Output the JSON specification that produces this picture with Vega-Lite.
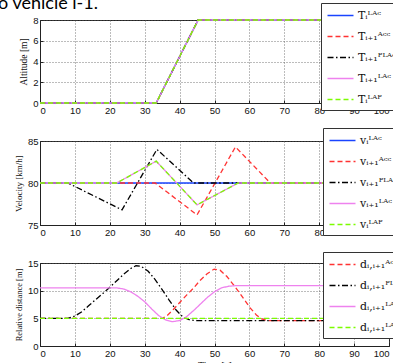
{
  "$schema": "https://vega.github.io/schema/vega-lite/v6.json",
  "autosize": "none",
  "padding": {"left": 40, "top": 20, "right": 353, "bottom": 343},
  "title": {"text": "o vehicle i-1.", "anchor": "start", "frame": "group", "font": "Lato", "fontSize": 18, "fontWeight": "normal", "color": "#000000", "baseline": "alphabetic", "offset": -25, "dx": -42},
  "bounds": "flush",
  "spacing": 38,
  "datasets": {
    "alt": [
      {"t": 0, "s": "Tᵢᴸᴬᶜ", "y": 0}, {"t": 33.3, "s": "Tᵢᴸᴬᶜ", "y": 0}, {"t": 45.3, "s": "Tᵢᴸᴬᶜ", "y": 8}, {"t": 100, "s": "Tᵢᴸᴬᶜ", "y": 8},
      {"t": 0, "s": "Tᵢ₊₁ᴬᶜᶜ", "y": 0}, {"t": 33.3, "s": "Tᵢ₊₁ᴬᶜᶜ", "y": 0}, {"t": 45.3, "s": "Tᵢ₊₁ᴬᶜᶜ", "y": 8}, {"t": 100, "s": "Tᵢ₊₁ᴬᶜᶜ", "y": 8},
      {"t": 0, "s": "Tᵢ₊₁ᴾᴸᴬᶜ", "y": 0}, {"t": 33.3, "s": "Tᵢ₊₁ᴾᴸᴬᶜ", "y": 0}, {"t": 45.3, "s": "Tᵢ₊₁ᴾᴸᴬᶜ", "y": 8}, {"t": 100, "s": "Tᵢ₊₁ᴾᴸᴬᶜ", "y": 8},
      {"t": 0, "s": "Tᵢ₊₁ᴸᴬᶜ", "y": 0}, {"t": 33.3, "s": "Tᵢ₊₁ᴸᴬᶜ", "y": 0}, {"t": 45.3, "s": "Tᵢ₊₁ᴸᴬᶜ", "y": 8}, {"t": 100, "s": "Tᵢ₊₁ᴸᴬᶜ", "y": 8},
      {"t": 0, "s": "Tᵢᴸᴬᴾ", "y": 0}, {"t": 33.3, "s": "Tᵢᴸᴬᴾ", "y": 0}, {"t": 45.3, "s": "Tᵢᴸᴬᴾ", "y": 8}, {"t": 100, "s": "Tᵢᴸᴬᴾ", "y": 8}
    ],
    "vel": [
      {"t": 0, "s": "vᵢᴸᴬᶜ", "y": 80}, {"t": 100, "s": "vᵢᴸᴬᶜ", "y": 80},
      {"t": 0, "s": "vᵢ₊₁ᴬᶜᶜ", "y": 80}, {"t": 33, "s": "vᵢ₊₁ᴬᶜᶜ", "y": 80}, {"t": 45, "s": "vᵢ₊₁ᴬᶜᶜ", "y": 76.2}, {"t": 56, "s": "vᵢ₊₁ᴬᶜᶜ", "y": 84.3}, {"t": 66, "s": "vᵢ₊₁ᴬᶜᶜ", "y": 80}, {"t": 100, "s": "vᵢ₊₁ᴬᶜᶜ", "y": 80},
      {"t": 0, "s": "vᵢ₊₁ᴾᴸᴬᶜ", "y": 80}, {"t": 8, "s": "vᵢ₊₁ᴾᴸᴬᶜ", "y": 80}, {"t": 23.5, "s": "vᵢ₊₁ᴾᴸᴬᶜ", "y": 76.8}, {"t": 33.5, "s": "vᵢ₊₁ᴾᴸᴬᶜ", "y": 84}, {"t": 44, "s": "vᵢ₊₁ᴾᴸᴬᶜ", "y": 80}, {"t": 100, "s": "vᵢ₊₁ᴾᴸᴬᶜ", "y": 80},
      {"t": 0, "s": "vᵢ₊₁ᴸᴬᶜ", "y": 80}, {"t": 22, "s": "vᵢ₊₁ᴸᴬᶜ", "y": 80}, {"t": 33.3, "s": "vᵢ₊₁ᴸᴬᶜ", "y": 82.6}, {"t": 45, "s": "vᵢ₊₁ᴸᴬᶜ", "y": 77.4}, {"t": 56.8, "s": "vᵢ₊₁ᴸᴬᶜ", "y": 80}, {"t": 100, "s": "vᵢ₊₁ᴸᴬᶜ", "y": 80},
      {"t": 0, "s": "vᵢᴸᴬᴾ", "y": 80}, {"t": 22, "s": "vᵢᴸᴬᴾ", "y": 80}, {"t": 33.3, "s": "vᵢᴸᴬᴾ", "y": 82.6}, {"t": 45, "s": "vᵢᴸᴬᴾ", "y": 77.4}, {"t": 56.8, "s": "vᵢᴸᴬᴾ", "y": 80}, {"t": 100, "s": "vᵢᴸᴬᴾ", "y": 80}
    ],
    "dist": [
      {"t": 0, "s": "dᵢ,ᵢ₊₁ᴬᶜᶜ", "y": 5}, {"t": 35, "s": "dᵢ,ᵢ₊₁ᴬᶜᶜ", "y": 5}, {"t": 36.3, "s": "dᵢ,ᵢ₊₁ᴬᶜᶜ", "y": 5.4}, {"t": 38.2, "s": "dᵢ,ᵢ₊₁ᴬᶜᶜ", "y": 6.6}, {"t": 40.1, "s": "dᵢ,ᵢ₊₁ᴬᶜᶜ", "y": 7.9}, {"t": 42, "s": "dᵢ,ᵢ₊₁ᴬᶜᶜ", "y": 9.2}, {"t": 43.9, "s": "dᵢ,ᵢ₊₁ᴬᶜᶜ", "y": 10.4}, {"t": 45.8, "s": "dᵢ,ᵢ₊₁ᴬᶜᶜ", "y": 11.8}, {"t": 47.8, "s": "dᵢ,ᵢ₊₁ᴬᶜᶜ", "y": 13.0}, {"t": 49.9, "s": "dᵢ,ᵢ₊₁ᴬᶜᶜ", "y": 13.9}, {"t": 51.6, "s": "dᵢ,ᵢ₊₁ᴬᶜᶜ", "y": 13.7}, {"t": 53.5, "s": "dᵢ,ᵢ₊₁ᴬᶜᶜ", "y": 12.6}, {"t": 55.4, "s": "dᵢ,ᵢ₊₁ᴬᶜᶜ", "y": 11.1}, {"t": 57.3, "s": "dᵢ,ᵢ₊₁ᴬᶜᶜ", "y": 9.5}, {"t": 59.2, "s": "dᵢ,ᵢ₊₁ᴬᶜᶜ", "y": 7.8}, {"t": 60.2, "s": "dᵢ,ᵢ₊₁ᴬᶜᶜ", "y": 6.9}, {"t": 62, "s": "dᵢ,ᵢ₊₁ᴬᶜᶜ", "y": 5.6}, {"t": 63.5, "s": "dᵢ,ᵢ₊₁ᴬᶜᶜ", "y": 4.9}, {"t": 65, "s": "dᵢ,ᵢ₊₁ᴬᶜᶜ", "y": 4.6}, {"t": 100, "s": "dᵢ,ᵢ₊₁ᴬᶜᶜ", "y": 4.6},
      {"t": 0, "s": "dᵢ,ᵢ₊₁ᴾᴸᴬᶜ", "y": 5}, {"t": 8, "s": "dᵢ,ᵢ₊₁ᴾᴸᴬᶜ", "y": 5}, {"t": 10, "s": "dᵢ,ᵢ₊₁ᴾᴸᴬᶜ", "y": 5.4}, {"t": 12, "s": "dᵢ,ᵢ₊₁ᴾᴸᴬᶜ", "y": 6.2}, {"t": 14, "s": "dᵢ,ᵢ₊₁ᴾᴸᴬᶜ", "y": 7.3}, {"t": 16, "s": "dᵢ,ᵢ₊₁ᴾᴸᴬᶜ", "y": 8.4}, {"t": 18, "s": "dᵢ,ᵢ₊₁ᴾᴸᴬᶜ", "y": 9.5}, {"t": 20, "s": "dᵢ,ᵢ₊₁ᴾᴸᴬᶜ", "y": 10.6}, {"t": 22, "s": "dᵢ,ᵢ₊₁ᴾᴸᴬᶜ", "y": 11.8}, {"t": 24, "s": "dᵢ,ᵢ₊₁ᴾᴸᴬᶜ", "y": 13.0}, {"t": 26, "s": "dᵢ,ᵢ₊₁ᴾᴸᴬᶜ", "y": 14.0}, {"t": 27.5, "s": "dᵢ,ᵢ₊₁ᴾᴸᴬᶜ", "y": 14.5}, {"t": 29, "s": "dᵢ,ᵢ₊₁ᴾᴸᴬᶜ", "y": 14.4}, {"t": 31, "s": "dᵢ,ᵢ₊₁ᴾᴸᴬᶜ", "y": 13.5}, {"t": 33, "s": "dᵢ,ᵢ₊₁ᴾᴸᴬᶜ", "y": 12.0}, {"t": 35, "s": "dᵢ,ᵢ₊₁ᴾᴸᴬᶜ", "y": 10.2}, {"t": 37, "s": "dᵢ,ᵢ₊₁ᴾᴸᴬᶜ", "y": 8.3}, {"t": 39, "s": "dᵢ,ᵢ₊₁ᴾᴸᴬᶜ", "y": 6.5}, {"t": 41, "s": "dᵢ,ᵢ₊₁ᴾᴸᴬᶜ", "y": 5.2}, {"t": 43, "s": "dᵢ,ᵢ₊₁ᴾᴸᴬᶜ", "y": 4.7}, {"t": 45, "s": "dᵢ,ᵢ₊₁ᴾᴸᴬᶜ", "y": 4.6}, {"t": 100, "s": "dᵢ,ᵢ₊₁ᴾᴸᴬᶜ", "y": 4.6},
      {"t": 0, "s": "dᵢ,ᵢ₊₁ᴸᴬᶜ", "y": 10.5}, {"t": 22, "s": "dᵢ,ᵢ₊₁ᴸᴬᶜ", "y": 10.5}, {"t": 24, "s": "dᵢ,ᵢ₊₁ᴸᴬᶜ", "y": 10.3}, {"t": 26, "s": "dᵢ,ᵢ₊₁ᴸᴬᶜ", "y": 9.8}, {"t": 28, "s": "dᵢ,ᵢ₊₁ᴸᴬᶜ", "y": 9.0}, {"t": 30, "s": "dᵢ,ᵢ₊₁ᴸᴬᶜ", "y": 8.0}, {"t": 32, "s": "dᵢ,ᵢ₊₁ᴸᴬᶜ", "y": 6.7}, {"t": 34, "s": "dᵢ,ᵢ₊₁ᴸᴬᶜ", "y": 5.5}, {"t": 36, "s": "dᵢ,ᵢ₊₁ᴸᴬᶜ", "y": 4.7}, {"t": 38, "s": "dᵢ,ᵢ₊₁ᴸᴬᶜ", "y": 4.4}, {"t": 40, "s": "dᵢ,ᵢ₊₁ᴸᴬᶜ", "y": 4.6}, {"t": 42, "s": "dᵢ,ᵢ₊₁ᴸᴬᶜ", "y": 5.3}, {"t": 44, "s": "dᵢ,ᵢ₊₁ᴸᴬᶜ", "y": 6.4}, {"t": 46, "s": "dᵢ,ᵢ₊₁ᴸᴬᶜ", "y": 7.6}, {"t": 48, "s": "dᵢ,ᵢ₊₁ᴸᴬᶜ", "y": 8.8}, {"t": 50, "s": "dᵢ,ᵢ₊₁ᴸᴬᶜ", "y": 9.8}, {"t": 52, "s": "dᵢ,ᵢ₊₁ᴸᴬᶜ", "y": 10.5}, {"t": 54, "s": "dᵢ,ᵢ₊₁ᴸᴬᶜ", "y": 10.8}, {"t": 56, "s": "dᵢ,ᵢ₊₁ᴸᴬᶜ", "y": 10.9}, {"t": 100, "s": "dᵢ,ᵢ₊₁ᴸᴬᶜ", "y": 10.9},
      {"t": 0, "s": "dᵢ,ᵢ₊₁ᴸᴬᴾ", "y": 5}, {"t": 100, "s": "dᵢ,ᵢ₊₁ᴸᴬᴾ", "y": 5}
    ]
  },
  "vconcat": [
    {
      "width": 349, "height": 83,
      "data": {"name": "alt"},
      "mark": {"type": "line", "strokeWidth": 1.3},
      "encoding": {
        "x": {"field": "t", "type": "quantitative", "scale": {"domain": [0, 100], "nice": false}, "axis": {"values": [0, 10, 20, 30, 40, 50, 60, 70, 80, 90, 100], "title": null}},
        "y": {"field": "y", "type": "quantitative", "scale": {"domain": [0, 8], "nice": false}, "axis": {"values": [0, 2, 4, 6, 8], "title": "Altitude [m]", "titleX": -17, "titleFontSize": 9.5}},
        "color": {"field": "s", "type": "nominal", "sort": null, "scale": {"domain": ["Tᵢᴸᴬᶜ", "Tᵢ₊₁ᴬᶜᶜ", "Tᵢ₊₁ᴾᴸᴬᶜ", "Tᵢ₊₁ᴸᴬᶜ", "Tᵢᴸᴬᴾ"], "range": ["#1a44ff", "#ff3333", "#000000", "#ee82ee", "#7cfc00"]}, "legend": {"title": null, "orient": "none", "legendX": 281, "legendY": -17, "symbolType": "M-2,0H2"}},
        "strokeDash": {"field": "s", "type": "nominal", "sort": null, "scale": {"domain": ["Tᵢᴸᴬᶜ", "Tᵢ₊₁ᴬᶜᶜ", "Tᵢ₊₁ᴾᴸᴬᶜ", "Tᵢ₊₁ᴸᴬᶜ", "Tᵢᴸᴬᴾ"], "range": [[1, 0], [5, 3], [6, 2.5, 1.5, 2.5], [1, 0], [5, 3]]}, "legend": {"title": null, "orient": "none", "legendX": 281, "legendY": -17, "symbolType": "M-2,0H2"}}
      }
    },
    {
      "width": 349, "height": 84,
      "data": {"name": "vel"},
      "mark": {"type": "line", "strokeWidth": 1.3},
      "encoding": {
        "x": {"field": "t", "type": "quantitative", "scale": {"domain": [0, 100], "nice": false}, "axis": {"values": [0, 10, 20, 30, 40, 50, 60, 70, 80, 90, 100], "title": null}},
        "y": {"field": "y", "type": "quantitative", "scale": {"domain": [75, 85], "nice": false}, "axis": {"values": [75, 80, 85], "title": "Velocity [km/h]", "titleX": -22}},
        "color": {"field": "s", "type": "nominal", "sort": null, "scale": {"domain": ["vᵢᴸᴬᶜ", "vᵢ₊₁ᴬᶜᶜ", "vᵢ₊₁ᴾᴸᴬᶜ", "vᵢ₊₁ᴸᴬᶜ", "vᵢᴸᴬᴾ"], "range": ["#1a44ff", "#ff3333", "#000000", "#ee82ee", "#7cfc00"]}, "legend": {"title": null, "orient": "none", "legendX": 283, "legendY": -13, "symbolType": "M-2,0H2"}},
        "strokeDash": {"field": "s", "type": "nominal", "sort": null, "scale": {"domain": ["vᵢᴸᴬᶜ", "vᵢ₊₁ᴬᶜᶜ", "vᵢ₊₁ᴾᴸᴬᶜ", "vᵢ₊₁ᴸᴬᶜ", "vᵢᴸᴬᴾ"], "range": [[1, 0], [5, 3], [6, 2.5, 1.5, 2.5], [1, 0], [5, 3]]}, "legend": {"title": null, "orient": "none", "legendX": 283, "legendY": -13, "symbolType": "M-2,0H2"}}
      }
    },
    {
      "width": 349, "height": 83,
      "data": {"name": "dist"},
      "mark": {"type": "line", "strokeWidth": 1.3},
      "encoding": {
        "x": {"field": "t", "type": "quantitative", "scale": {"domain": [0, 100], "nice": false}, "axis": {"values": [0, 10, 20, 30, 40, 50, 60, 70, 80, 90, 100], "title": "Time [s]", "titleFontSize": 10, "titlePadding": 3}},
        "y": {"field": "y", "type": "quantitative", "scale": {"domain": [0, 15], "nice": false}, "axis": {"values": [0, 5, 10, 15], "title": "Relative distance [m]", "titleX": -22, "titleFontSize": 8.5}},
        "color": {"field": "s", "type": "nominal", "sort": null, "scale": {"domain": ["dᵢ,ᵢ₊₁ᴬᶜᶜ", "dᵢ,ᵢ₊₁ᴾᴸᴬᶜ", "dᵢ,ᵢ₊₁ᴸᴬᶜ", "dᵢ,ᵢ₊₁ᴸᴬᴾ"], "range": ["#ff3333", "#000000", "#ee82ee", "#7cfc00"]}, "legend": {"title": null, "orient": "none", "legendX": 283, "legendY": -11, "symbolType": "M-2,0H2"}},
        "strokeDash": {"field": "s", "type": "nominal", "sort": null, "scale": {"domain": ["dᵢ,ᵢ₊₁ᴬᶜᶜ", "dᵢ,ᵢ₊₁ᴾᴸᴬᶜ", "dᵢ,ᵢ₊₁ᴸᴬᶜ", "dᵢ,ᵢ₊₁ᴸᴬᴾ"], "range": [[5, 3], [6, 2.5, 1.5, 2.5], [1, 0], [5, 3]]}, "legend": {"title": null, "orient": "none", "legendX": 283, "legendY": -11, "symbolType": "M-2,0H2"}}
      }
    }
  ],
  "resolve": {"scale": {"color": "independent", "strokeDash": "independent"}, "legend": {"color": "independent", "strokeDash": "independent"}},
  "config": {
    "background": "white",
    "view": {"stroke": "#222222", "strokeWidth": 1},
    "axis": {"labelFont": "Liberation Sans", "labelFontSize": 9.5, "labelColor": "#111111", "domainColor": "#222222", "tickColor": "#222222", "tickSize": -3, "labelPadding": 5, "grid": true, "gridColor": "#555555", "gridDash": [1, 2], "gridWidth": 0.8, "gridOpacity": 1, "titleFont": "Liberation Serif", "titleFontSize": 9, "titleFontWeight": "normal", "titleColor": "#111111"},
    "axisY": {"titleBaseline": "middle", "titleAngle": 270},
    "axisX": {"titleAngle": 0},
    "legend": {"fillColor": "white", "strokeColor": "#333333", "padding": 5, "symbolSize": 169, "symbolStrokeWidth": 1.4, "symbolOffset": 7, "labelOffset": 10, "labelFont": "DejaVu Serif", "labelFontSize": 11, "labelColor": "#111111", "rowPadding": 8, "cornerRadius": 0}
  }
}
